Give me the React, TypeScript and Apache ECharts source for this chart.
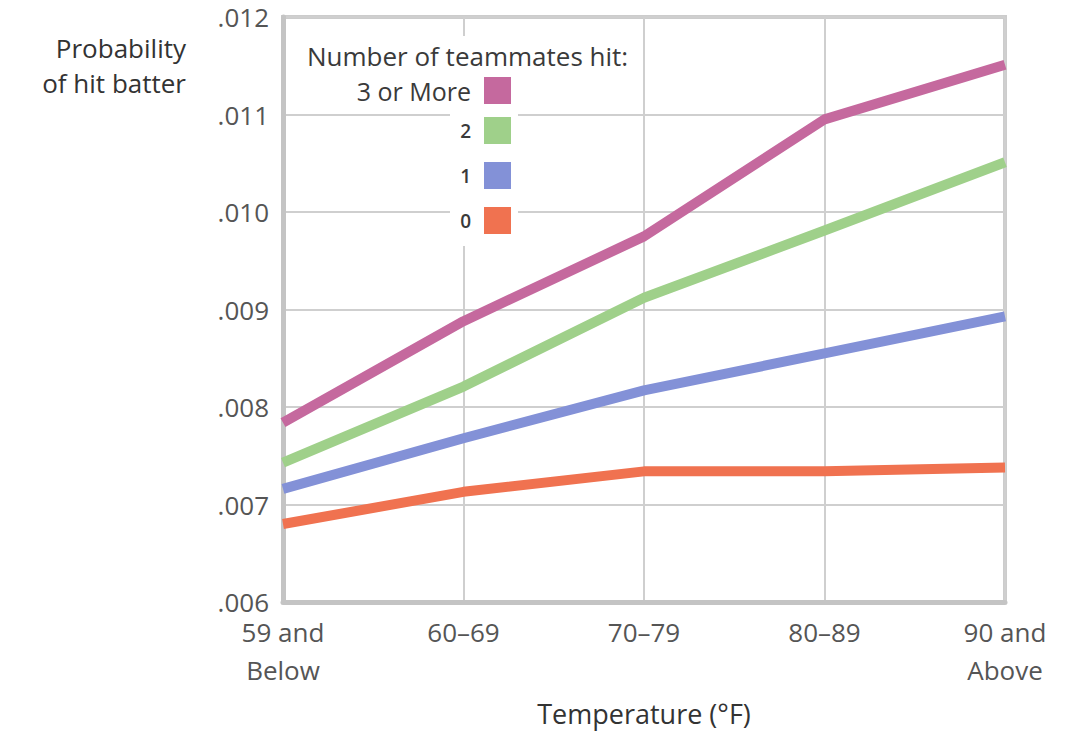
import React, { useEffect, useRef } from "react";
import * as echarts from "echarts";

const categories = ["59 and\nBelow", "60–69", "70–79", "80–89", "90 and\nAbove"];
const seriesNames = ["3 or More", "2", "1", "0"];
const threeOrMore = [0.00784, 0.00888, 0.00975, 0.01095, 0.01151];
const two = [0.00743, 0.00821, 0.00912, 0.00981, 0.01051];
const one = [0.00716, 0.00768, 0.00817, 0.00855, 0.00893];
const zero = [0.00680, 0.00713, 0.00734, 0.00734, 0.00738];
const seriesValues = [threeOrMore, two, one, zero];
const seriesColors = ["#c5699e", "#9fd08a", "#8391d7", "#f07250"];
const yTicks = [0.006, 0.007, 0.008, 0.009, 0.01, 0.011, 0.012];

const FONT = "'Open Sans', 'Noto Sans', sans-serif";

export default function App() {
  const ref = useRef<HTMLDivElement>(null);
  useEffect(() => {
    if (!ref.current) return;
    const chart = echarts.init(ref.current, null, { renderer: "svg" });
    const legendTops = [77, 117, 162, 207];
    const legendFont = [25, 19, 19, 19];
    const legendWeight = ["normal", 600, 600, 600];
    chart.setOption({
      animation: false,
      backgroundColor: "#ffffff",
      textStyle: { fontFamily: FONT },
      grid: {
        left: 283,
        right: 76,
        top: 17,
        bottom: 131,
        show: true,
        borderColor: "#cccccc",
        borderWidth: 4,
        backgroundColor: "transparent",
      },
      xAxis: {
        type: "category",
        data: categories,
        boundaryGap: false,
        name: "Temperature (°F)",
        nameLocation: "middle",
        nameGap: 98,
        nameTextStyle: { fontSize: 27, color: "#333333", fontFamily: FONT },
        axisLine: { show: true, lineStyle: { color: "#c4c4c4", width: 5 } },
        axisTick: { show: false },
        axisLabel: {
          fontSize: 26,
          color: "#555555",
          lineHeight: 38,
          margin: 11,
          fontFamily: FONT,
        },
        splitLine: { show: true, lineStyle: { color: "#cfcfcf", width: 2 } },
      },
      yAxis: {
        type: "value",
        min: yTicks[0],
        max: yTicks[yTicks.length - 1],
        interval: 0.001,
        axisLine: { show: true, lineStyle: { color: "#c4c4c4", width: 5 } },
        axisTick: { show: false },
        axisLabel: {
          fontSize: 26,
          lineHeight: 20,
          color: "#555555",
          margin: 14,
          fontFamily: FONT,
          formatter: (v: number) => v.toFixed(3).replace(/^0/, ""),
        },
        splitLine: { show: true, lineStyle: { color: "#cfcfcf", width: 2 } },
      },
      legend: seriesNames.map((name, i) => ({
        data: [name],
        orient: "vertical",
        right: 1081 - 511,
        top: legendTops[i],
        padding: 0,
        itemWidth: 27,
        itemHeight: 27,
        align: "right",
        icon: "rect",
        selectedMode: false,
        itemStyle: { borderWidth: 0 },
        textStyle: {
          fontSize: legendFont[i],
          fontWeight: legendWeight[i],
          color: "#3a3a3a",
          fontFamily: FONT,
          padding: [0, 8, 0, 0],
        },
      })),
      graphic: [
        {
          type: "rect",
          z: 1,
          shape: { x: 298, y: 36, width: 345, height: 72 },
          style: { fill: "#ffffff" },
        },
        {
          type: "rect",
          z: 1,
          shape: { x: 450, y: 36, width: 68, height: 210 },
          style: { fill: "#ffffff" },
        },
        {
          type: "text",
          z: 5,
          x: 307,
          y: 56,
          style: {
            text: "Number of teammates hit:",
            fontSize: 26,
            fill: "#3a3a3a",
            fontFamily: FONT,
            verticalAlign: "middle",
          },
        },
        {
          type: "text",
          z: 5,
          x: 186,
          y: 65,
          style: {
            text: "Probability\nof hit batter",
            fontSize: 26,
            lineHeight: 35,
            fill: "#333333",
            fontFamily: FONT,
            align: "right",
            verticalAlign: "middle",
          },
        },
      ],
      series: seriesNames.map((name, i) => ({
        name,
        type: "line",
        data: seriesValues[i],
        showSymbol: false,
        symbol: "none",
        z: 3,
        itemStyle: { color: seriesColors[i] },
        lineStyle: { color: seriesColors[i], width: 10, cap: "butt", join: "round" },
      })),
    });
    return () => chart.dispose();
  }, []);
  return (
    <div
      ref={ref}
      style={{ position: "fixed", left: 0, top: 0, width: 1081, height: 733 }}
    />
  );
}
